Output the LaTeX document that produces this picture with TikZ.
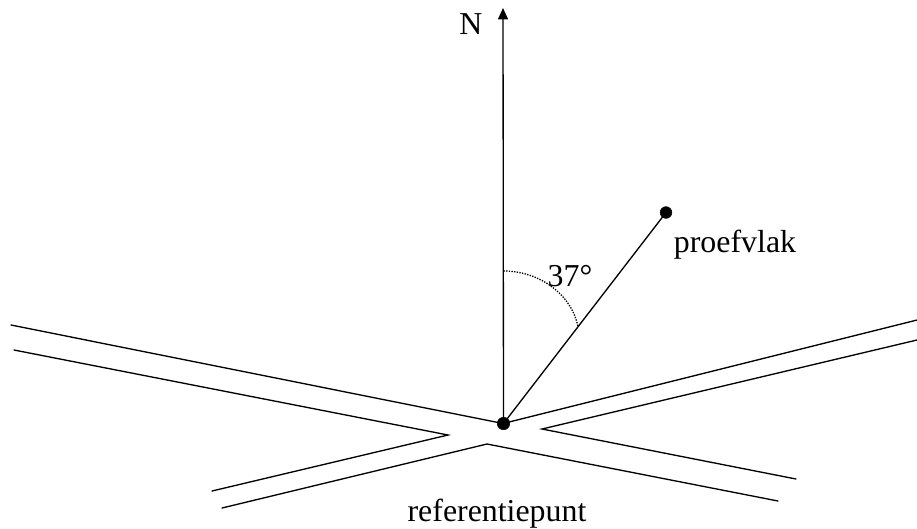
\documentclass[tikz,border=0pt]{standalone}
\usepackage{fontspec}
\setmainfont{Liberation Serif}
\usetikzlibrary{arrows.meta}
\tikzset{lbl/.style={inner sep=0pt,font=\fontsize{24}{28}\selectfont},
road/.style={line width=1pt,line cap=round},
dot/.style={circle,fill=black,draw=black,inner sep=0pt,minimum size=0.33cm}}
\begin{document}
\begin{tikzpicture}[x=0.0264583cm,y=-0.0264583cm]
\useasboundingbox (0,0) rectangle (917,528);
\coordinate (ntip) at (503,8);
\node[dot] (ref) at (503.5,423.5) {};
\node[dot,minimum size=0.31cm] (pv) at (666,212.5) {};
\draw[line width=1pt,-{Triangle[length=8.5pt,width=7.5pt]}] (ref.center) -- (ntip);
\draw[line width=1pt] (ref.center) -- (pv.center);
\coordinate (a1) at (11,325); \coordinate (a2) at (503,423.5);
\coordinate (b1) at (14,350); \coordinate (b2) at (448,435); \coordinate (b3) at (212,491);
\coordinate (c1) at (222,508); \coordinate (c2) at (487,444); \coordinate (c3) at (778,501);
\coordinate (d1) at (796,479); \coordinate (d2) at (542,429); \coordinate (d3) at (917,340);
\coordinate (e1) at (917,320);
\draw[road] (a1) -- (a2) -- (e1);
\draw[road] (b1) -- (b2) -- (b3);
\draw[road] (c1) -- (c2) -- (c3);
\draw[road] (d1) -- (d2) -- (d3);
\coordinate (s) at (503.5,271);
\coordinate (t) at (578,327);
\draw[densely dotted,line width=1pt] (s) .. controls (540,271) and (572,295) .. (t);
\node[lbl] (N) at (471,24) {N};
\node[lbl] (ang) at (570,276) {37°};
\node[lbl] (pf) at (735,245) {proefvlak};
\node[lbl] (rp) at (497,514) {referentiepunt};
\end{tikzpicture}
\end{document}
